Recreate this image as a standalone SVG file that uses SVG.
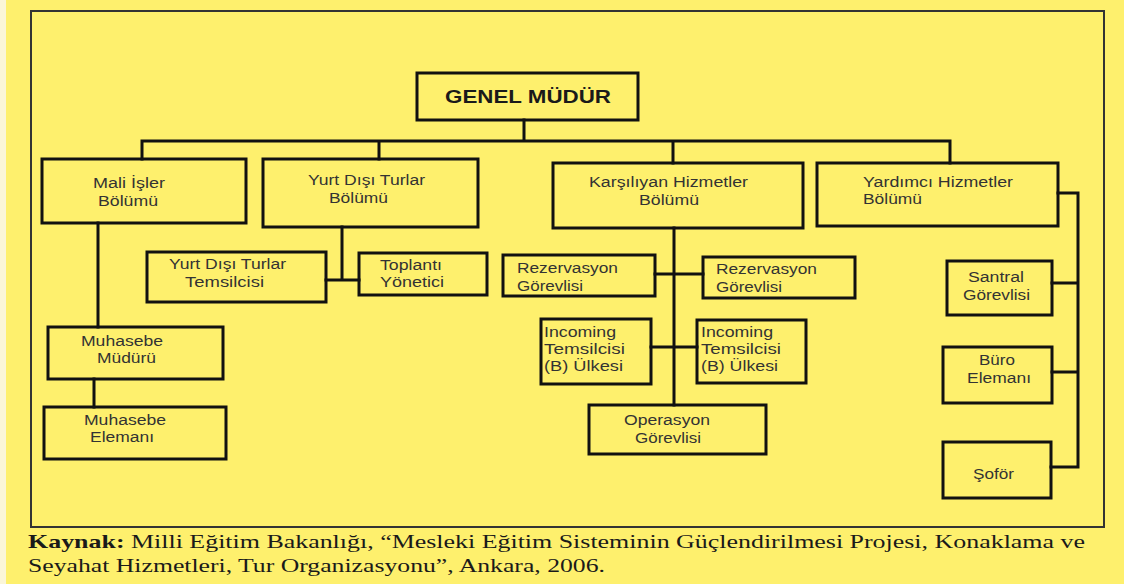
<svg xmlns="http://www.w3.org/2000/svg" width="1124" height="584" viewBox="0 0 1124 584">
<style>
.box{fill:none;stroke:#111;stroke-width:3}
.ln{fill:none;stroke:#111;stroke-width:3;stroke-linecap:square}
.t{font-family:"Liberation Sans",Arial,sans-serif;font-size:14px;fill:#333}
.h{font-family:"Liberation Sans",Arial,sans-serif;font-size:18px;font-weight:bold;fill:#1a1a1a}
.cap{font-family:"Liberation Serif","Times New Roman",serif;font-size:19.5px;fill:#1a1a1a}
</style>
<rect x="0" y="0" width="1124" height="584" fill="#FEF06D"/>
<rect x="0" y="0" width="6" height="584" fill="#FBF6D8"/>
<rect x="31" y="11" width="1073" height="516" fill="none" stroke="#333" stroke-width="2"/>

<g id="connectors">
  <path class="ln" d="M524 120V141M142 141H950M142 141V159M379 141V159M673 141V163M950 141V163"/>
  <path class="ln" d="M98 223V327M94 379V407"/>
  <path class="ln" d="M342 227V280M326 280H359"/>
  <path class="ln" d="M674 228V405M655 274H703M651 347H697"/>
  <path class="ln" d="M1058 193H1078V467H1051M1052 283H1078M1052 372H1078"/>
</g>

<g id="genel-mudur">
  <rect class="box" x="417" y="73" width="221" height="47"/>
  <text class="h" x="445" y="103" textLength="166" lengthAdjust="spacingAndGlyphs">GENEL MÜDÜR</text>
</g>
<g id="mali-isler">
  <rect class="box" x="42" y="159" width="204" height="64"/>
  <text class="t" x="93" y="188" textLength="72" lengthAdjust="spacingAndGlyphs">Mali İşler</text>
  <text class="t" x="98" y="206" textLength="60" lengthAdjust="spacingAndGlyphs">Bölümü</text>
</g>
<g id="yurt-disi-bolumu">
  <rect class="box" x="263" y="159" width="215" height="68"/>
  <text class="t" x="308" y="185" textLength="117" lengthAdjust="spacingAndGlyphs">Yurt Dışı Turlar</text>
  <text class="t" x="329" y="203" textLength="59" lengthAdjust="spacingAndGlyphs">Bölümü</text>
</g>
<g id="karsilayan">
  <rect class="box" x="553" y="163" width="250" height="65"/>
  <text class="t" x="589" y="187" textLength="159" lengthAdjust="spacingAndGlyphs">Karşılıyan Hizmetler</text>
  <text class="t" x="639" y="205" textLength="60" lengthAdjust="spacingAndGlyphs">Bölümü</text>
</g>
<g id="yardimci">
  <rect class="box" x="817" y="163" width="241" height="63"/>
  <text class="t" x="863" y="187" textLength="150" lengthAdjust="spacingAndGlyphs">Yardımcı Hizmetler</text>
  <text class="t" x="863" y="204" textLength="59" lengthAdjust="spacingAndGlyphs">Bölümü</text>
</g>
<g id="yurt-disi-temsilcisi">
  <rect class="box" x="147" y="252" width="179" height="50"/>
  <text class="t" x="169" y="269" textLength="117" lengthAdjust="spacingAndGlyphs">Yurt Dışı Turlar</text>
  <text class="t" x="185" y="287" textLength="79" lengthAdjust="spacingAndGlyphs">Temsilcisi</text>
</g>
<g id="toplanti">
  <rect class="box" x="359" y="253" width="128" height="42"/>
  <text class="t" x="380" y="270" textLength="62" lengthAdjust="spacingAndGlyphs">Toplantı</text>
  <text class="t" x="380" y="287" textLength="64" lengthAdjust="spacingAndGlyphs">Yönetici</text>
</g>
<g id="rezervasyon-1">
  <rect class="box" x="503" y="255" width="152" height="41"/>
  <text class="t" x="517" y="273" textLength="101" lengthAdjust="spacingAndGlyphs">Rezervasyon</text>
  <text class="t" x="517" y="291" textLength="66" lengthAdjust="spacingAndGlyphs">Görevlisi</text>
</g>
<g id="rezervasyon-2">
  <rect class="box" x="703" y="257" width="152" height="41"/>
  <text class="t" x="716" y="274" textLength="101" lengthAdjust="spacingAndGlyphs">Rezervasyon</text>
  <text class="t" x="716" y="292" textLength="66" lengthAdjust="spacingAndGlyphs">Görevlisi</text>
</g>
<g id="incoming-1">
  <rect class="box" x="541" y="319" width="110" height="65"/>
  <text class="t" x="544" y="337" textLength="72" lengthAdjust="spacingAndGlyphs">Incoming</text>
  <text class="t" x="544" y="354" textLength="81" lengthAdjust="spacingAndGlyphs">Temsilcisi</text>
  <text class="t" x="544" y="371" textLength="79" lengthAdjust="spacingAndGlyphs">(B) Ülkesi</text>
</g>
<g id="incoming-2">
  <rect class="box" x="697" y="320" width="109" height="63"/>
  <text class="t" x="701" y="337" textLength="72" lengthAdjust="spacingAndGlyphs">Incoming</text>
  <text class="t" x="701" y="354" textLength="80" lengthAdjust="spacingAndGlyphs">Temsilcisi</text>
  <text class="t" x="701" y="371" textLength="77" lengthAdjust="spacingAndGlyphs">(B) Ülkesi</text>
</g>
<g id="operasyon">
  <rect class="box" x="589" y="405" width="177" height="49"/>
  <text class="t" x="624" y="425" textLength="86" lengthAdjust="spacingAndGlyphs">Operasyon</text>
  <text class="t" x="635" y="443" textLength="66" lengthAdjust="spacingAndGlyphs">Görevlisi</text>
</g>
<g id="muhasebe-muduru">
  <rect class="box" x="48" y="327" width="175" height="52"/>
  <text class="t" x="81" y="346" textLength="82" lengthAdjust="spacingAndGlyphs">Muhasebe</text>
  <text class="t" x="97" y="363" textLength="59" lengthAdjust="spacingAndGlyphs">Müdürü</text>
</g>
<g id="muhasebe-elemani">
  <rect class="box" x="44" y="407" width="182" height="52"/>
  <text class="t" x="84" y="425" textLength="82" lengthAdjust="spacingAndGlyphs">Muhasebe</text>
  <text class="t" x="90" y="442" textLength="64" lengthAdjust="spacingAndGlyphs">Elemanı</text>
</g>
<g id="santral">
  <rect class="box" x="947" y="261" width="105" height="54"/>
  <text class="t" x="968" y="282" textLength="56" lengthAdjust="spacingAndGlyphs">Santral</text>
  <text class="t" x="963" y="300" textLength="67" lengthAdjust="spacingAndGlyphs">Görevlisi</text>
</g>
<g id="buro">
  <rect class="box" x="943" y="347" width="109" height="56"/>
  <text class="t" x="979" y="365" textLength="36" lengthAdjust="spacingAndGlyphs">Büro</text>
  <text class="t" x="967" y="383" textLength="64" lengthAdjust="spacingAndGlyphs">Elemanı</text>
</g>
<g id="sofor">
  <rect class="box" x="943" y="442" width="108" height="56"/>
  <text class="t" x="973" y="479" textLength="41" lengthAdjust="spacingAndGlyphs">Şoför</text>
</g>

<g id="caption">
  <text class="cap" x="28" y="548" textLength="1057" lengthAdjust="spacingAndGlyphs"><tspan font-weight="bold">Kaynak:</tspan> Milli Eğitim Bakanlığı, “Mesleki Eğitim Sisteminin Güçlendirilmesi Projesi, Konaklama ve</text>
  <text class="cap" x="28" y="572" textLength="577" lengthAdjust="spacingAndGlyphs">Seyahat Hizmetleri, Tur Organizasyonu”, Ankara, 2006.</text>
</g>
</svg>
